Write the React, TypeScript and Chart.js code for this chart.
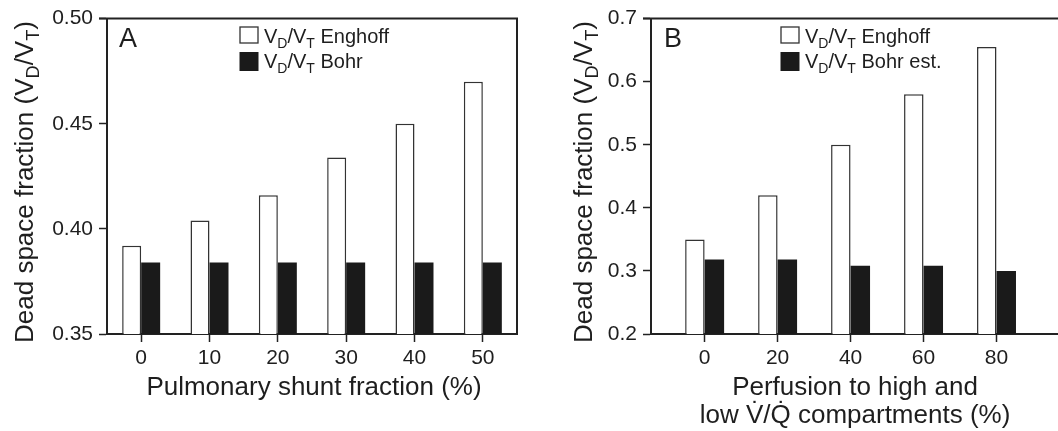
import React, { useEffect, useRef } from "react";
import { Chart, registerables } from "chart.js";

Chart.register(...registerables);

// ---------- Data ----------
const shuntCategories = ["0", "10", "20", "30", "40", "50"];
const enghoffA = [0.392, 0.404, 0.416, 0.434, 0.45, 0.47];
const bohrA = [0.384, 0.384, 0.384, 0.384, 0.384, 0.384];
const yTicksA = [0.35, 0.4, 0.45, 0.5];
const yTickLabelsA = ["0.35", "0.40", "0.45", "0.50"];

const perfusionValues = [0, 20, 40, 60, 80];
const enghoffB = [0.35, 0.42, 0.5, 0.58, 0.655];
const bohrB = [0.318, 0.318, 0.308, 0.308, 0.3];
const yTicksB = [0.2, 0.3, 0.4, 0.5, 0.6, 0.7];
const yTickLabelsB = ["0.2", "0.3", "0.4", "0.5", "0.6", "0.7"];

const FONT = '"Liberation Sans", Arial, Helvetica, sans-serif';
const INK = "#1e1e1e";

type Seg = { t: string; sub?: boolean };

const yTitleSegs: Seg[] = [
  { t: "Dead space fraction (V" },
  { t: "D", sub: true },
  { t: "/V" },
  { t: "T", sub: true },
  { t: ")" },
];
const legendEnghoff: Seg[] = [{ t: "V" }, { t: "D", sub: true }, { t: "/V" }, { t: "T", sub: true }, { t: " Enghoff" }];
const legendBohrA: Seg[] = [{ t: "V" }, { t: "D", sub: true }, { t: "/V" }, { t: "T", sub: true }, { t: " Bohr" }];
const legendBohrB: Seg[] = [{ t: "V" }, { t: "D", sub: true }, { t: "/V" }, { t: "T", sub: true }, { t: " Bohr est." }];

function drawRich(ctx: CanvasRenderingContext2D, segs: Seg[], x: number, y: number, size: number, align: "left" | "center") {
  const sub = size * 0.7;
  let w = 0;
  for (const s of segs) {
    ctx.font = `${s.sub ? sub : size}px ${FONT}`;
    w += ctx.measureText(s.t).width;
  }
  let cx = align === "center" ? x - w / 2 : x;
  ctx.textAlign = "left";
  ctx.textBaseline = "alphabetic";
  for (const s of segs) {
    ctx.font = `${s.sub ? sub : size}px ${FONT}`;
    ctx.fillText(s.t, cx, y + (s.sub ? size * 0.24 : 0));
    cx += ctx.measureText(s.t).width;
  }
}

type Deco = {
  letter: string;
  letterX: number;
  yTitleX: number;
  yTitleY: number;
  xTitleX: number;
  xTitleLines: string[];
  legendX: number;
  legend2: Seg[];
};

function makeDecoPlugin(d: Deco) {
  return {
    id: "deco",
    afterDraw(chart: any) {
      const ctx: CanvasRenderingContext2D = chart.ctx;
      const a = chart.chartArea;
      ctx.save();
      // frame top & right
      ctx.strokeStyle = "#222";
      ctx.lineWidth = 2;
      ctx.beginPath();
      ctx.moveTo(a.left - 8, a.top);
      ctx.lineTo(a.right, a.top);
      ctx.lineTo(a.right, a.bottom);
      ctx.stroke();

      ctx.fillStyle = INK;
      // panel letter
      ctx.font = `27px ${FONT}`;
      ctx.textAlign = "left";
      ctx.textBaseline = "alphabetic";
      ctx.fillText(d.letter, d.letterX, 47);

      // legend
      const bx = d.legendX;
      ctx.fillStyle = "#fff";
      ctx.fillRect(bx, 27, 18, 16);
      ctx.strokeStyle = "#333";
      ctx.lineWidth = 1.3;
      ctx.strokeRect(bx, 27, 18, 16);
      ctx.fillStyle = "#1a1a1a";
      ctx.fillRect(bx - 0.5, 52, 19, 19);
      ctx.fillStyle = INK;
      drawRich(ctx, legendEnghoff, bx + 24, 43, 20, "left");
      drawRich(ctx, d.legend2, bx + 24, 68, 20, "left");

      // y title
      ctx.save();
      ctx.translate(d.yTitleX, d.yTitleY);
      ctx.rotate(-Math.PI / 2);
      drawRich(ctx, yTitleSegs, 0, 0, 26, "center");
      ctx.restore();

      // x title
      ctx.font = `26px ${FONT}`;
      ctx.textAlign = "center";
      ctx.textBaseline = "alphabetic";
      d.xTitleLines.forEach((line, i) => {
        ctx.fillText(line, d.xTitleX, 395 + i * 28);
      });
      ctx.restore();
    },
  };
}

function yScale(ticks: number[], labels: string[], width: number) {
  return {
    min: ticks[0],
    max: ticks[ticks.length - 1],
    afterBuildTicks: (s: any) => {
      s.ticks = ticks.map((v) => ({ value: v }));
    },
    afterFit: (s: any) => {
      s.width = width;
    },
    ticks: {
      font: { family: FONT, size: 21 },
      color: INK,
      padding: 6,
      callback: (_v: any, i: number) => labels[i],
    },
    grid: {
      drawOnChartArea: false,
      drawTicks: true,
      tickLength: 8,
      tickWidth: 1.5,
      tickColor: "#222",
    },
    border: { display: true, width: 2, color: "#222" },
  };
}

function PanelA() {
  const ref = useRef<HTMLCanvasElement>(null);
  useEffect(() => {
    const chart = new Chart(ref.current!, {
      type: "bar",
      data: {
        labels: shuntCategories,
        datasets: [
          {
            label: "VD/VT Enghoff",
            data: enghoffA,
            backgroundColor: "#ffffff",
            borderColor: "#333333",
            borderWidth: 1.5,
            categoryPercentage: 0.556,
            barPercentage: 1,
          },
          {
            label: "VD/VT Bohr",
            data: bohrA,
            backgroundColor: "#1a1a1a",
            borderColor: "#1a1a1a",
            borderWidth: 0,
            categoryPercentage: 0.556,
            barPercentage: 1,
          },
        ],
      },
      options: {
        responsive: false,
        animation: false,
        layout: { padding: { top: 18, right: 12, left: 0, bottom: 0 } },
        plugins: { legend: { display: false }, tooltip: { enabled: false } },
        scales: {
          x: {
            offset: true,
            afterFit: (s: any) => {
              s.height = 97;
            },
            ticks: { font: { family: FONT, size: 21 }, color: INK, padding: 4, maxRotation: 0 },
            grid: {
              offset: false,
              drawOnChartArea: false,
              drawTicks: true,
              tickLength: 8,
              tickWidth: 1.5,
              tickColor: "#222",
            },
            border: { display: true, width: 2, color: "#222" },
          },
          y: yScale(yTicksA, yTickLabelsA, 107),
        },
      } as any,
      plugins: [
        makeDecoPlugin({
          letter: "A",
          letterX: 119,
          yTitleX: 33,
          yTitleY: 182,
          xTitleX: 314,
          xTitleLines: ["Pulmonary shunt fraction (%)"],
          legendX: 240,
          legend2: legendBohrA,
        }),
      ],
    });
    return () => chart.destroy();
  }, []);
  return <canvas ref={ref} width={529} height={431} style={{ display: "block" }} />;
}

function PanelB() {
  const ref = useRef<HTMLCanvasElement>(null);
  useEffect(() => {
    const chart = new Chart(ref.current!, {
      type: "bar",
      data: {
        datasets: [
          {
            label: "VD/VT Enghoff",
            data: perfusionValues.map((x, i) => ({ x, y: enghoffB[i] })),
            backgroundColor: "#ffffff",
            borderColor: "#333333",
            borderWidth: 1.5,
            categoryPercentage: 0.534,
            barPercentage: 1,
          },
          {
            label: "VD/VT Bohr est.",
            data: perfusionValues.map((x, i) => ({ x, y: bohrB[i] })),
            backgroundColor: "#1a1a1a",
            borderColor: "#1a1a1a",
            borderWidth: 0,
            categoryPercentage: 0.534,
            barPercentage: 1,
          },
        ],
      },
      options: {
        responsive: false,
        animation: false,
        layout: { padding: { top: 18, right: 5, left: 0, bottom: 0 } },
        plugins: { legend: { display: false }, tooltip: { enabled: false } },
        scales: {
          x: {
            type: "linear",
            min: -14.7,
            max: 98.5,
            offset: false,
            afterBuildTicks: (s: any) => {
              s.ticks = perfusionValues.map((v) => ({ value: v }));
            },
            afterFit: (s: any) => {
              s.height = 97;
            },
            ticks: {
              font: { family: FONT, size: 21 },
              color: INK,
              padding: 4,
              maxRotation: 0,
              callback: (v: any) => String(v),
            },
            grid: {
              offset: false,
              drawOnChartArea: false,
              drawTicks: true,
              tickLength: 8,
              tickWidth: 1.5,
              tickColor: "#222",
            },
            border: { display: true, width: 2, color: "#222" },
          },
          y: yScale(yTicksB, yTickLabelsB, 122),
        },
      } as any,
      plugins: [
        makeDecoPlugin({
          letter: "B",
          letterX: 135,
          yTitleX: 63,
          yTitleY: 182,
          xTitleX: 326,
          xTitleLines: ["Perfusion to high and", "low V\u0307/Q\u0307 compartments (%)"],
          legendX: 252,
          legend2: legendBohrB,
        }),
      ],
    });
    return () => chart.destroy();
  }, []);
  return <canvas ref={ref} width={540} height={431} style={{ display: "block" }} />;
}

export default function App() {
  return (
    <div
      style={{
        position: "absolute",
        left: 0,
        top: 0,
        width: 1058,
        height: 431,
        background: "#fff",
        overflow: "hidden",
      }}
    >
      <div style={{ position: "absolute", left: 0, top: 0, width: 529, height: 431 }}>
        <PanelA />
      </div>
      <div style={{ position: "absolute", left: 529, top: 0, width: 529, height: 431, overflow: "hidden" }}>
        <PanelB />
      </div>
    </div>
  );
}
